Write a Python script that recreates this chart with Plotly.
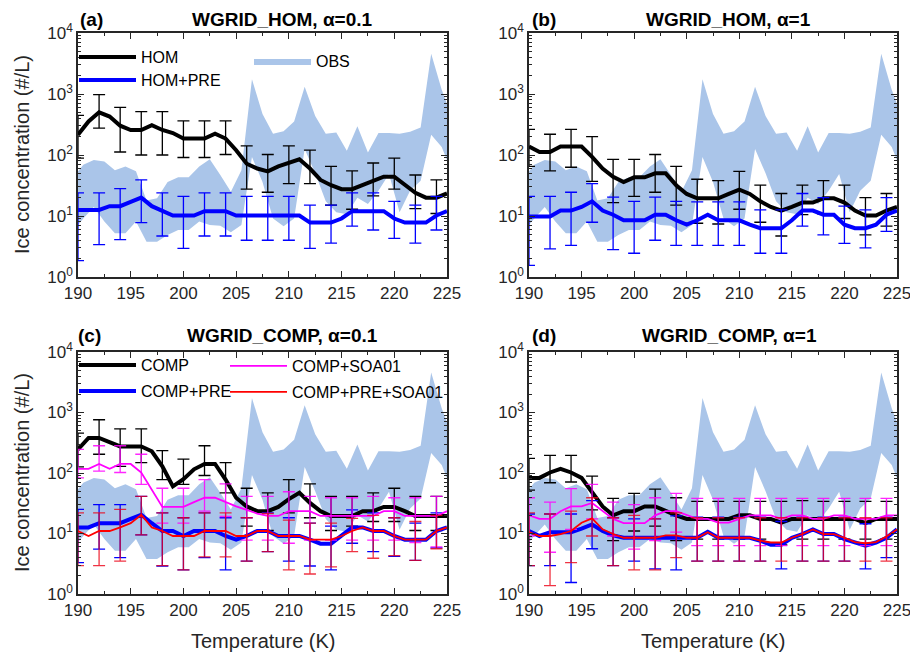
import plotly.graph_objects as go

# ---------------- data ----------------
T = list(range(190, 226))            # model temperatures (K)
T_ERR = list(range(190, 226, 2))     # temperatures with error bars
T_OBS = [189.5 + i for i in range(37)]

OBS_LOW = [5.6, 9.1, 14.1, 8.1, 5.2, 5.2, 8.1, 3.8, 3.8, 4.9, 5.9, 5.9, 8.1, 7.1, 6.9, 5.4, 7.1,
           93, 36, 9.1, 6.8, 9.1, 126, 50, 17.4, 11.5, 10.7, 20, 15.8, 26, 49, 11.5, 26, 38,
           214, 135, 50]
OBS_HIGH = [42, 69, 83, 78, 56, 65, 54, 18, 19.5, 36, 43, 43, 65, 85, 47, 25, 56,
            1740, 470, 224, 245, 355, 1320, 437, 224, 234, 117, 295, 110, 229, 229, 224, 240, 282,
            4570, 1175, 400]

# (a) WGRID_HOM, alpha=0.1
A_HOM = [214, 355, 501, 427, 302, 257, 257, 309, 257, 229, 186, 186, 186, 224, 186, 120, 72, 60,
         54, 65, 74, 85, 60, 39, 32, 27.5, 27.5, 32, 38, 44, 44, 32, 24, 20, 20, 23.4]
A_HOM_HI = [447, 977, 603, 513, 513, 363, 363, 363, 141, 102, 141, 120, 65, 55, 74, 89, 47, 39]
A_HOM_LO = [89, 275, 112, 100, 100, 91, 91, 102, 27.5, 24.5, 34, 34, 15.1, 12.9, 21.4, 27.5, 13.2, 11]
A_PRE = [12.6, 12.6, 12.6, 14.5, 14.5, 17, 20, 14.5, 12, 10.2, 10.2, 10.2, 12, 12, 12, 10.2, 10.2, 10.2,
         10.2, 10.2, 10.2, 10.2, 7.8, 7.8, 7.8, 9.1, 12, 12, 12, 12, 9.1, 7.8, 7.8, 7.8, 10.2, 12]
A_PRE_HI = [24, 24, 28, 39, 24, 21, 24, 24, 21, 21, 21, 15.1, 15.1, 24, 24, 17.4, 15.1, 21]
A_PRE_LO = [1.86, 3.4, 4.1, 7.8, 4.7, 2.95, 4.7, 4.7, 4.0, 4.0, 4.0, 2.95, 3.6, 6.8, 5.9, 4.3, 3.6, 5.9]

# (b) WGRID_HOM, alpha=1
B_HOM = [138, 112, 112, 138, 138, 138, 93, 60, 44, 36, 43, 43, 50, 50, 32, 23, 19.5, 19.5, 19.5, 23,
         27, 23, 17.4, 14.1, 12.3, 14.1, 16.6, 16.6, 19.5, 19.5, 16.6, 12.3, 10.2, 10.2, 12.3, 14.1]
B_HOM_HI = [263, 219, 263, 200, 85, 85, 102, 65, 40, 38, 54, 32, 23.4, 32, 38, 32, 20, 23.4]
B_HOM_LO = [65, 55, 63, 37, 16.6, 21, 24.5, 15.1, 7.6, 7.4, 12.9, 7.9, 4.7, 10.5, 10.7, 9.1, 4.9, 6.8]
B_PRE = [9.8, 9.8, 9.8, 12.3, 12.3, 14.1, 17.4, 12.3, 10.5, 8.5, 8.5, 8.5, 10.5, 10.5, 8.5, 7.2, 8.5, 10.5,
         8.5, 8.5, 8.5, 7.2, 6.3, 6.3, 6.3, 8.5, 12.3, 12.3, 10.5, 10.5, 7.2, 6.3, 6.3, 7.2, 10.5, 12.3]
B_PRE_HI = [21, 21, 24.5, 34, 20.4, 17.4, 20.4, 17.4, 17, 17, 17, 12.6, 12.6, 23.4, 20, 14.5, 12.6, 20]
B_PRE_LO = [1.55, 2.9, 3.3, 7.9, 2.8, 2.45, 4.0, 3.3, 3.3, 3.3, 3.3, 2.45, 2.45, 6.8, 4.9, 3.55, 3.0, 5.6]

# (c) WGRID_COMP, alpha=0.1
C_COMP = [245, 380, 380, 324, 275, 275, 275, 229, 129, 60, 79, 115, 141, 141, 78, 39, 28, 23.4, 23.4,
          27.5, 37, 47, 32, 23.4, 19.5, 19.5, 19.5, 23.4, 23.4, 27.5, 27.5, 23.4, 19.5, 19.5, 19.5, 19.5]
C_COMP_HI = [457, 759, 537, 537, 234, 170, 282, 148, 56, 47, 78, 66, 41, 41, 47, 56, 41, 41]
C_COMP_LO = [126, 204, 129, 148, 78, 65, 91, 47, 13.2, 11.2, 21.9, 18.2, 11.2, 13.2, 15.8, 15.8, 11.2, 11.2]
C_SOA = [117, 117, 141, 117, 141, 141, 102, 52, 27.5, 27.5, 27.5, 33, 39, 39, 33, 28, 24.5, 21.4, 19.5,
         19.5, 23.4, 23.4, 23.4, 19.5, 19.5, 19.5, 19.5, 19.5, 19.5, 23.4, 23.4, 19.5, 19.5, 19.5, 19.5, 23.4]
C_SOA_HI = [245, 282, 282, 204, 56, 56, 78, 66, 41, 41, 49, 41, 39, 39, 41, 39, 39, 41]
C_SOA_LO = [83, 107, 102, 65, 14.8, 14.8, 23.4, 19.1, 7.8, 7.8, 6.9, 7.8, 7.8, 7.8, 7.8, 7.8, 7.1, 6.0]
C_PRE = [12.6, 12.6, 14.8, 14.8, 14.8, 17.4, 20.4, 14.8, 11, 11, 9.1, 11, 11, 11, 9.1, 7.9, 9.1, 11, 11,
         9.1, 9.1, 9.1, 7.9, 6.8, 6.8, 9.1, 12.6, 12.6, 11, 11, 9.1, 7.9, 7.9, 7.9, 11, 12.6]
C_PRE_HI = [25, 30, 30, 41, 22, 18.2, 22, 18.2, 18.2, 22, 18.2, 14.8, 13.2, 24.5, 22, 18.2, 14.8, 22]
C_PRE_LO = [3.3, 5.5, 4.0, 9.5, 2.9, 2.5, 4.0, 2.5, 3.5, 5.0, 3.5, 2.9, 2.5, 6.9, 5.0, 4.2, 3.6, 5.8]
C_PRESOA = [11, 9.1, 11, 11, 12.6, 14.8, 20.4, 12.6, 11, 9.1, 9.1, 9.1, 11, 11, 11, 9.1, 9.1, 11, 11,
            9.1, 9.1, 9.1, 7.9, 7.9, 7.9, 9.1, 11, 12.6, 11, 11, 9.1, 7.9, 7.9, 7.9, 11, 12.6]
C_PRESOA_HI = [22, 22, 25, 41, 22, 18.2, 22, 22, 18.2, 21.4, 16.6, 14.8, 14.8, 17.8, 20, 18.2, 15.8, 20]
C_PRESOA_LO = [2.95, 2.95, 3.5, 9.5, 2.95, 2.5, 4.1, 4.1, 3.5, 5.0, 2.5, 2.14, 2.8, 5.0, 3.9, 4.3, 3.6, 5.6]

# (d) WGRID_COMP, alpha=1
D_COMP = [83, 83, 102, 117, 102, 83, 48, 28, 20, 23.4, 23.4, 28, 28, 23.4, 20, 17.4, 17.4, 17.4, 17.4,
          17.4, 20, 20, 17.4, 17.4, 15.1, 17.4, 17.4, 17.4, 17.4, 17.4, 17.4, 17.4, 14.8, 17.4, 17.4, 17.4]
D_COMP_HI = [174, 195, 195, 89, 38, 46, 54, 39, 34, 34, 34, 34, 34, 35, 34, 34, 34, 34]
D_COMP_LO = [52, 69, 71, 24.5, 7.6, 11, 13.2, 7.6, 8.1, 8.1, 8.1, 8.1, 6.5, 8.1, 8.1, 8.1, 8.1, 8.1]
D_SOA = [20, 17.4, 17.4, 23.4, 28, 28, 32, 23.4, 17.4, 14.8, 14.8, 14.8, 20, 23.4, 23.4, 20, 17.4, 17.4,
         15.1, 15.1, 17.4, 20, 20, 20, 17.4, 20, 20, 17.4, 17.4, 20, 20, 17.4, 17.4, 17.4, 20, 20]
D_SOA_HI = [39, 33, 55, 65, 33, 30, 39, 46, 38, 38, 38, 38, 38, 38, 38, 38, 38, 38]
D_SOA_LO = [9.1, 4.9, 11.7, 17.4, 9.1, 5.5, 7.6, 10.5, 6.3, 6.3, 6.3, 6.3, 6.3, 6.3, 6.3, 6.3, 6.3, 6.3]
D_PRE = [11, 9.1, 10.5, 10.5, 10.5, 12, 14.1, 11, 9.3, 8.5, 8.5, 8.5, 8.5, 8.5, 8.5, 8.5, 8.5, 10.7,
         8.5, 8.5, 8.5, 8.5, 7.6, 6.5, 6.5, 8.5, 9.8, 11.7, 9.8, 9.8, 8.1, 7.1, 6.3, 7.1, 8.5, 11.7]
D_PRE_HI = [21, 21, 21, 35, 18.2, 17.4, 17.4, 19.5, 18.6, 18.6, 18.6, 18.6, 15.8, 18.6, 18.6, 18.6, 14.5, 18.6]
D_PRE_LO = [2.95, 2.95, 1.55, 5.6, 2.95, 3.5, 2.6, 2.5, 3.5, 3.5, 3.5, 3.5, 2.6, 3.5, 3.5, 3.5, 2.6, 4.0]
D_PRESOA = [10.5, 9.1, 9.1, 9.8, 11, 15.1, 17.8, 11.7, 9.8, 8.5, 8.5, 8.5, 8.5, 9.3, 9.3, 8.5, 8.5, 10.5,
            8.5, 8.5, 8.5, 8.5, 7.6, 7.1, 7.1, 8.5, 9.8, 11.7, 9.8, 9.8, 8.5, 7.2, 6.9, 7.2, 8.9, 11.7]
D_PRESOA_HI = [22, 21, 23.4, 39, 18.2, 20, 17.4, 22, 18.2, 18.2, 18.2, 18.2, 18.2, 18.2, 18.2, 18.2, 18.2, 18.2]
D_PRESOA_LO = [2.95, 1.38, 3.3, 9.1, 2.95, 2.5, 2.5, 4.0, 3.5, 3.5, 3.5, 3.5, 3.5, 3.5, 3.5, 3.5, 3.5, 3.5]

X_TICKS = [190, 195, 200, 205, 210, 215, 220, 225]
Y_TICKS = [1, 10, 100, 1000, 10000]
Y_TICKTEXT = ["10<sup>0</sup>", "10<sup>1</sup>", "10<sup>2</sup>", "10<sup>3</sup>", "10<sup>4</sup>"]

# ---------------- figure ----------------
FONT = "Liberation Sans, Arial, sans-serif"
AX = "#262626"
BAND = "#aac5e9"
W, H = 910, 654

fig = go.Figure()


def add_band(xa, ya, legend=None):
    fig.add_trace(go.Scatter(
        x=T_OBS + T_OBS[::-1], y=OBS_HIGH + OBS_LOW[::-1],
        fill="toself", fillcolor=BAND, mode="lines", line=dict(width=0, color=BAND),
        name="OBS", showlegend=legend is not None, legend=legend or "legend",
        xaxis=xa, yaxis=ya, hoverinfo="skip"))


def add_series(xa, ya, vals, lo, hi, color, width, err_color, name=None, legend=None):
    ev = [vals[T.index(t)] for t in T_ERR]
    fig.add_trace(go.Scatter(
        x=T_ERR, y=ev, mode="markers", marker=dict(size=1, color="rgba(0,0,0,0)"),
        error_y=dict(type="data", symmetric=False,
                     array=[max(h - v, 0) for h, v in zip(hi, ev)],
                     arrayminus=[max(v - l, 0) for l, v in zip(lo, ev)],
                     color=err_color, thickness=1.3, width=6),
        showlegend=False, xaxis=xa, yaxis=ya, hoverinfo="skip"))
    fig.add_trace(go.Scatter(
        x=T, y=vals, mode="lines", line=dict(color=color, width=width),
        name=name, showlegend=name is not None, legend=legend or "legend",
        xaxis=xa, yaxis=ya))


# panel a
add_band("x", "y", legend="legend4")
add_series("x", "y", A_HOM, A_HOM_LO, A_HOM_HI, "black", 4, "black", "HOM", "legend2")
add_series("x", "y", A_PRE, A_PRE_LO, A_PRE_HI, "#0000ff", 4, "#0000ff", "HOM+PRE", "legend3")
# panel b
add_band("x2", "y2")
add_series("x2", "y2", B_HOM, B_HOM_LO, B_HOM_HI, "black", 4, "black")
add_series("x2", "y2", B_PRE, B_PRE_LO, B_PRE_HI, "#0000ff", 4, "#0000ff")
# panel c
add_band("x3", "y3")
add_series("x3", "y3", C_COMP, C_COMP_LO, C_COMP_HI, "black", 4, "black", "COMP", "legend5")
add_series("x3", "y3", C_PRE, C_PRE_LO, C_PRE_HI, "#0000ff", 4, "#0000ff", "COMP+PRE", "legend6")
add_series("x3", "y3", C_SOA, C_SOA_LO, C_SOA_HI, "#ff00ff", 1.8, "rgba(255,0,255,0.85)", "COMP+SOA01", "legend7")
add_series("x3", "y3", C_PRESOA, C_PRESOA_LO, C_PRESOA_HI, "#ff0000", 1.8, "rgba(235,0,20,0.8)", "COMP+PRE+SOA01", "legend8")
# panel d
add_band("x4", "y4")
add_series("x4", "y4", D_COMP, D_COMP_LO, D_COMP_HI, "black", 4, "black")
add_series("x4", "y4", D_PRE, D_PRE_LO, D_PRE_HI, "#0000ff", 4, "#0000ff")
add_series("x4", "y4", D_SOA, D_SOA_LO, D_SOA_HI, "#ff00ff", 1.8, "rgba(255,0,255,0.85)")
add_series("x4", "y4", D_PRESOA, D_PRESOA_LO, D_PRESOA_HI, "#ff0000", 1.8, "rgba(235,0,20,0.8)")


# axis geometry (pixels -> paper)
def px(x):
    return x / W


def py(y):
    return 1 - y / H


XDOM_L = [px(78), px(447)]
XDOM_R = [px(529), px(897)]
YDOM_T = [py(277), py(33)]
YDOM_B = [py(594), py(352)]

minor_x = [192.5 + 5 * i for i in range(7)]
minor_y = [m * 10 ** k for k in range(4) for m in range(2, 10)]


def xcfg(dom, anchor):
    return dict(domain=dom, anchor=anchor, range=[190, 225], tickvals=X_TICKS, automargin=False,
                ticklabeloverflow="allow",
                ticks="inside", ticklen=6, tickwidth=1.2, tickcolor=AX,
                showline=True, linecolor=AX, linewidth=1.5, mirror="ticks",
                minor=dict(tickvals=minor_x, ticks="inside", ticklen=3, tickcolor=AX, tickwidth=1),
                tickfont=dict(size=17, color=AX, family=FONT), showgrid=False, zeroline=False)


def ycfg(dom, anchor):
    return dict(domain=dom, anchor=anchor, type="log", range=[0, 4], tickvals=Y_TICKS,
                ticktext=Y_TICKTEXT, automargin=False, ticklabeloverflow="allow",
                ticks="inside", ticklen=6, tickwidth=1.2, tickcolor=AX,
                showline=True, linecolor=AX, linewidth=1.5, mirror="ticks",
                minor=dict(tickvals=minor_y, ticks="inside", ticklen=3, tickcolor=AX, tickwidth=1),
                tickfont=dict(size=17, color=AX, family=FONT), showgrid=False, zeroline=False)


def leg(xpx, ypx):
    return dict(x=px(xpx), y=py(ypx), xanchor="left", yanchor="middle", bgcolor="rgba(0,0,0,0)",
                borderwidth=0, font=dict(size=16, color="black", family=FONT), itemwidth=57,
                tracegroupgap=0)


annotations = []
for txt, xpx, ypx, anchor in [("(a)", 78, 20, "left"), ("WGRID_HOM, α=0.1", 282, 20, "center"),
                              ("(b)", 530, 20, "left"), ("WGRID_HOM, α=1", 728, 20, "center"),
                              ("(c)", 76, 335, "left"), ("WGRID_COMP, α=0.1", 282, 335, "center"),
                              ("(d)", 530, 335, "left"), ("WGRID_COMP, α=1", 729, 335, "center")]:
    annotations.append(dict(text="<b>%s</b>" % txt, x=px(xpx), y=py(ypx), xref="paper", yref="paper",
                            xanchor=anchor, yanchor="middle", showarrow=False,
                            font=dict(size=19, color="black", family=FONT)))
# axis titles
for xpx, ypx in [(22, 155), (22, 473)]:
    annotations.append(dict(text="Ice concentration (#/L)", x=px(xpx), y=py(ypx), xref="paper", yref="paper",
                            xanchor="center", yanchor="middle", textangle=-90, showarrow=False,
                            font=dict(size=20, color=AX, family=FONT)))
for xpx, ypx in [(263, 641), (713, 641)]:
    annotations.append(dict(text="Temperature (K)", x=px(xpx), y=py(ypx), xref="paper", yref="paper",
                            xanchor="center", yanchor="middle", showarrow=False,
                            font=dict(size=20, color=AX, family=FONT)))

fig.update_layout(
    width=W, height=H, margin=dict(l=0, r=0, t=0, b=0, autoexpand=False),
    paper_bgcolor="white", plot_bgcolor="white",
    font=dict(family=FONT, color=AX),
    xaxis=xcfg(XDOM_L, "y"), yaxis=ycfg(YDOM_T, "x"),
    xaxis2=xcfg(XDOM_R, "y2"), yaxis2=ycfg(YDOM_T, "x2"),
    xaxis3=xcfg(XDOM_L, "y3"), yaxis3=ycfg(YDOM_B, "x3"),
    xaxis4=xcfg(XDOM_R, "y4"), yaxis4=ycfg(YDOM_B, "x4"),
    showlegend=True,
    legend2=leg(74, 57), legend3=leg(74, 80), legend4=leg(249, 61),
    legend5=leg(74, 365), legend6=leg(74, 391), legend7=leg(225, 366), legend8=leg(225, 392),
    annotations=annotations,
)

fig.write_html("out.html")
